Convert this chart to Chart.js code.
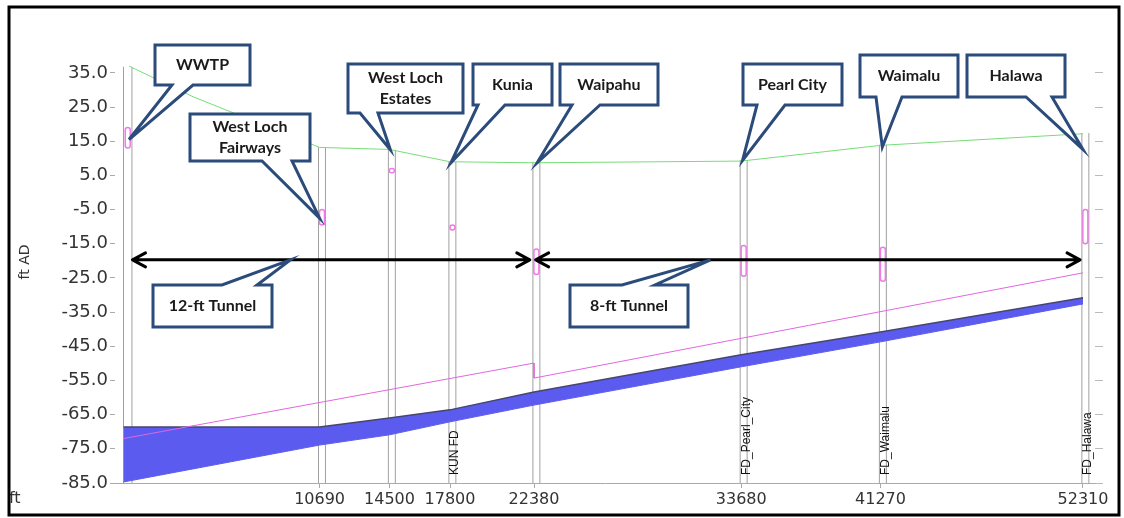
<!DOCTYPE html>
<html>
<head>
<meta charset="utf-8">
<script src="https://cdn.jsdelivr.net/npm/chart.js@4.4.0/dist/chart.umd.min.js"></script>
<style>
  html, body { margin: 0; padding: 0; background: #fff; }
  canvas { display: block; }
</style>
</head>
<body>
<canvas id="profile" width="1124" height="518"></canvas>
<script>
// stations along the tunnel (ft)
const stations = [0, 10690, 14500, 17800, 22380, 33680, 41270, 52310];
const xTickLabels = [10690, 14500, 17800, 22380, 33680, 41270, 52310];
const yTickLabels = [35, 25, 15, 5, -5, -15, -25, -35, -45, -55, -65, -75, -85];

// rim of each structure (ft AD)
const rimElev = [36.8, 13.3, 12.5, 9.0, 9.0, 9.5, 14.0, 17.4];

// ground line
const groundX = [300, 3800, 10690, 14500, 17800, 22380, 33680, 41270, 52310];
const groundY = [37.0, 28.0, 13.2, 12.6, 9.0, 8.7, 9.2, 13.8, 17.2];

// tunnel crown and invert at stations
const crownY = [-68.6, -68.6, -66.0, -63.6, -58.4, -47.5, -40.8, -30.8];
const invertY = [-84.7, -73.9, -70.9, -67.1, -62.2, -51.0, -43.7, -32.6];

// hydraulic grade line
const hglX = [0, 22380, 22380, 52310];
const hglY = [-72.0, -49.9, -54.3, -23.5];

// water level marks inside structures
const markLo = [13.0, -9.5, 5.8, -11.0, -24.0, -24.5, -26.0, -15.0];
const markHi = [19.0, -5.0, 7.0, -9.5, -16.5, -15.5, -16.0, -5.0];

// drop shaft names (station index)
const shaftNames = [[3, 'KUN FD'], [5, 'FD_Pearl_City'], [6, 'FD_Waimalu'], [7, 'FD_Halawa']];

// tunnel arrows
const arrowY = -19.7;
const arrowSpans = [[490, 22150], [22470, 52150]];

// callouts: box in px, tip in data
const callouts = [
  { text: ['WWTP'], box: [155, 45, 250, 85], tail: 'bottom', base: [172, 193], tip: [300, 15.5] },
  { text: ['West Loch', 'Fairways'], box: [190, 114, 310, 161], tail: 'bottom', base: [262, 292], tip: [10690, -7.5] },
  { text: ['West Loch', 'Estates'], box: [348, 64, 463, 113], tail: 'bottom', base: [360, 378], tip: [14550, 12.5] },
  { text: ['Kunia'], box: [473, 64, 552, 105], tail: 'bottom', base: [478, 505], tip: [17850, 8.7] },
  { text: ['Waipahu'], box: [560, 64, 658, 105], tail: 'bottom', base: [572, 600], tip: [22550, 8.7] },
  { text: ['Pearl City'], box: [743, 64, 842, 105], tail: 'bottom', base: [757, 785], tip: [33750, 9.4] },
  { text: ['Waimalu'], box: [860, 55, 958, 97], tail: 'bottom', base: [876, 902], tip: [41370, 13.3] },
  { text: ['Halawa'], box: [967, 55, 1065, 97], tail: 'bottom', base: [1026, 1052], tip: [52310, 12.6] },
  { text: ['12-ft Tunnel'], box: [153, 285, 272, 327], tail: 'top', base: [222, 257], tip: [9100, arrowY] },
  { text: ['8-ft Tunnel'], box: [570, 285, 688, 327], tail: 'top', base: [622, 655], tip: [32000, arrowY] }
];

// structure wall offsets (ft from station)
const wallL = -60;
const wallR = 320;

const pts = (xs, ys) => xs.map((v, i) => ({ x: v, y: ys[i] }));

const structPts = [];
stations.forEach((s, i) => {
  const walls = i === 0 ? [s, s + 460] : [s + wallL, s + wallR];
  walls.forEach(px => {
    structPts.push({ x: px, y: -85 }, { x: px, y: rimElev[i] }, { x: px, y: null });
  });
});

const overlay = {
  id: 'overlay',
  afterDatasetsDraw(chart) {
    const { ctx, scales: { x, y } } = chart;
    ctx.save();

    // water level marks (small hollow capsules inside the structures)
    ctx.strokeStyle = '#f07ae8';
    ctx.lineWidth = 1.5;
    stations.forEach((s, i) => {
      const xc = x.getPixelForValue(i === 0 ? s + 230 : s + (wallL + wallR) / 2);
      const yt = y.getPixelForValue(markHi[i]), yb = y.getPixelForValue(markLo[i]);
      ctx.beginPath();
      ctx.roundRect(xc - 2.5, yt, 5, yb - yt, 2.5);
      ctx.stroke();
    });

    // arrows
    ctx.strokeStyle = '#000';
    ctx.lineWidth = 3;
    ctx.lineCap = 'round';
    ctx.lineJoin = 'round';
    const ay = y.getPixelForValue(arrowY);
    arrowSpans.forEach(([a, b]) => {
      const xa = x.getPixelForValue(a), xb = x.getPixelForValue(b);
      ctx.beginPath();
      ctx.moveTo(xa, ay); ctx.lineTo(xb, ay);
      ctx.moveTo(xa + 13, ay - 7); ctx.lineTo(xa, ay); ctx.lineTo(xa + 13, ay + 7);
      ctx.moveTo(xb - 13, ay - 7); ctx.lineTo(xb, ay); ctx.lineTo(xb - 13, ay + 7);
      ctx.stroke();
    });

    // drop shaft labels
    ctx.fillStyle = '#111';
    ctx.font = '12px "Liberation Sans", Arial, sans-serif';
    ctx.textAlign = 'left';
    ctx.textBaseline = 'middle';
    shaftNames.forEach(([i, name]) => {
      ctx.save();
      ctx.translate(x.getPixelForValue(stations[i]) + 5, 475);
      ctx.rotate(-Math.PI / 2);
      ctx.fillText(name, 0, 0);
      ctx.restore();
    });

    // callouts
    ctx.lineWidth = 3;
    ctx.lineCap = 'butt';
    ctx.lineJoin = 'miter';
    callouts.forEach(c => {
      const [l, t, r, b] = c.box;
      const tx = x.getPixelForValue(c.tip[0]), ty = y.getPixelForValue(c.tip[1]);
      const [b1, b2] = c.base;
      ctx.beginPath();
      if (c.tail === 'bottom') {
        ctx.moveTo(l, t); ctx.lineTo(r, t); ctx.lineTo(r, b);
        ctx.lineTo(b2, b); ctx.lineTo(tx, ty); ctx.lineTo(b1, b); ctx.lineTo(l, b);
      } else {
        ctx.moveTo(l, t); ctx.lineTo(b1, t); ctx.lineTo(tx, ty); ctx.lineTo(b2, t);
        ctx.lineTo(r, t); ctx.lineTo(r, b); ctx.lineTo(l, b);
      }
      ctx.closePath();
      ctx.fillStyle = '#fff';
      ctx.fill();
      ctx.strokeStyle = '#2b4b7b';
      ctx.stroke();

      ctx.fillStyle = '#1a1a1a';
      ctx.font = 'bold 16px Lato, sans-serif';
      ctx.textAlign = 'center';
      ctx.textBaseline = 'middle';
      const cx = (l + r) / 2, cy = (t + b) / 2;
      const n = c.text.length;
      c.text.forEach((s, k) => ctx.fillText(s, cx, cy + (k - (n - 1) / 2) * 21));
    });

    // axis captions
    ctx.fillStyle = '#333';
    ctx.font = '14px "DejaVu Sans", sans-serif';
    ctx.save();
    ctx.translate(25, 262);
    ctx.rotate(-Math.PI / 2);
    ctx.fillText('ft AD', 0, 0);
    ctx.restore();
    ctx.textAlign = 'left';
    ctx.font = '16px "DejaVu Sans", sans-serif';
    ctx.fillText('ft', 9, 499);

    // frame
    ctx.strokeStyle = '#000';
    ctx.lineWidth = 3;
    ctx.strokeRect(9, 7, 1110, 508);
    ctx.restore();
  }
};

new Chart(document.getElementById('profile'), {
  type: 'line',
  data: {
    datasets: [
      { label: 'Ground', data: pts(groundX, groundY), borderColor: '#77dd77', borderWidth: 1, pointRadius: 0 },
      { label: 'HGL', data: pts(hglX, hglY), borderColor: '#e266e0', borderWidth: 1, pointRadius: 0 },
      { label: 'Crown', data: pts(stations, crownY), borderColor: '#46466e', borderWidth: 1.5, pointRadius: 0 },
      { label: 'Invert', data: pts(stations, invertY), borderColor: '#5b5bef', backgroundColor: '#5b5bef', borderWidth: 1, pointRadius: 0, fill: '-1' },
      { label: 'Structures', data: structPts, borderColor: '#a0a0a0', borderWidth: 1, pointRadius: 0, spanGaps: false }
    ]
  },
  options: {
    responsive: false,
    animation: false,
    layout: { padding: { top: 63, left: 0, right: 0, bottom: 0 } },
    plugins: { legend: { display: false }, tooltip: { enabled: false } },
    scales: {
      x: {
        type: 'linear',
        min: -464,
        max: 52965,
        afterFit: s => { s.height = 35; },
        afterBuildTicks: s => { s.ticks = xTickLabels.map(v => ({ value: v })); },
        grid: { drawOnChartArea: false, tickLength: 5, color: '#aaa' },
        border: { color: '#aaa' },
        ticks: {
          autoSkip: false, maxRotation: 0, padding: 2, color: '#333',
          font: { family: 'DejaVu Sans', size: 16 },
          callback: v => String(v)
        }
      },
      y: {
        min: -85,
        max: 37.9,
        afterFit: s => { s.width = 115; },
        afterBuildTicks: s => { s.ticks = yTickLabels.map(v => ({ value: v })); },
        grid: { drawOnChartArea: false, tickLength: 5, color: '#aaa' },
        border: { display: false },
        ticks: {
          padding: 2, color: '#333',
          font: { family: 'DejaVu Sans', size: 18 },
          callback: v => v.toFixed(1)
        }
      },
      y2: {
        position: 'right',
        min: -85,
        max: 37.9,
        afterFit: s => { s.width = 29; },
        afterBuildTicks: s => { s.ticks = yTickLabels.map(v => ({ value: v })); },
        grid: { drawOnChartArea: false, tickLength: 8, color: '#bbb' },
        border: { display: false },
        ticks: { display: false }
      }
    }
  },
  plugins: [overlay]
});
</script>
</body>
</html>
